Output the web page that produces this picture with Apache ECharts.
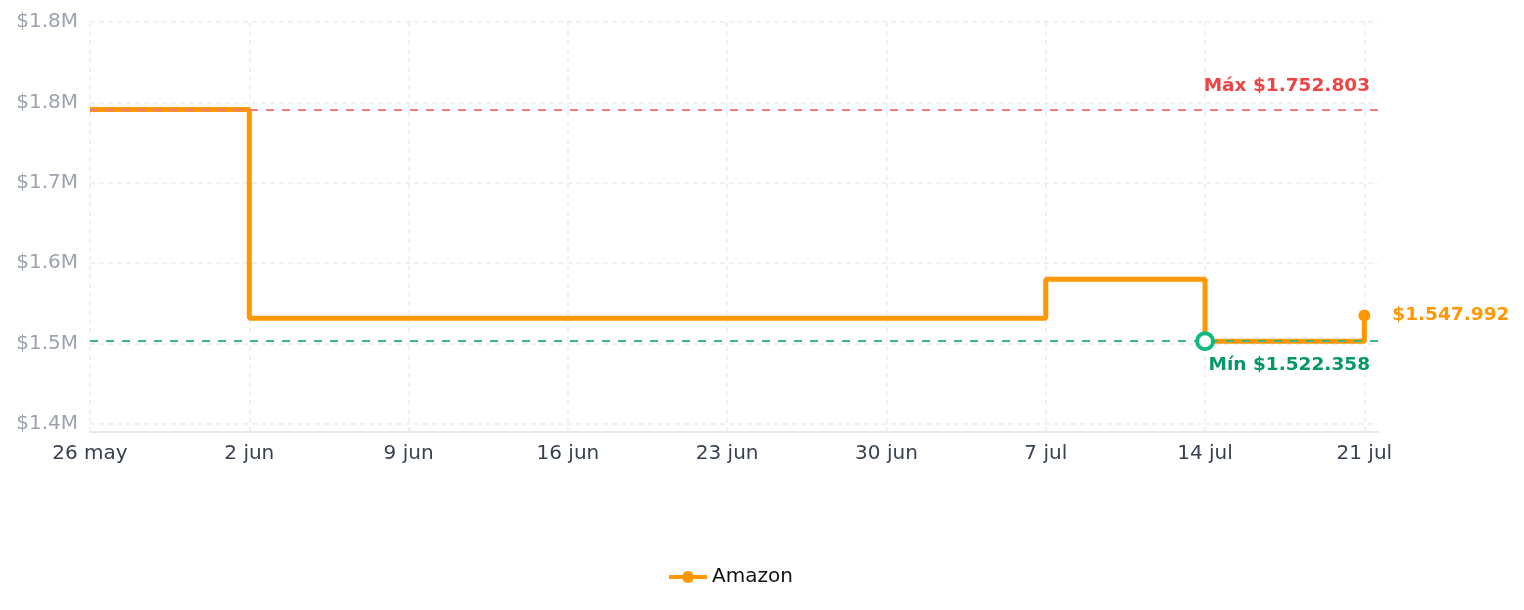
<!DOCTYPE html>
<html>
<head>
<meta charset="utf-8">
<title>Precio Amazon</title>
<script src="https://cdn.jsdelivr.net/npm/echarts@6/dist/echarts.min.js"></script>
<style>
  html, body { margin: 0; padding: 0; background: #fff; }
  #chart { width: 1524px; height: 610px; }
</style>
</head>
<body>
<div id="chart"></div>
<script>
// fechas donde cambia el precio y su valor
const dates = ['2025-05-26', '2025-06-02', '2025-07-07', '2025-07-14', '2025-07-21'];
const prices = [1752803, 1545100, 1584000, 1522358, 1547992];
// marcas del eje y que llevan etiqueta y linea
const yTicks = [1440000, 1520000, 1600000, 1680000, 1760000, 1840000];
const months = ['ene', 'feb', 'mar', 'abr', 'may', 'jun', 'jul', 'ago', 'sep', 'oct', 'nov', 'dic'];

const DAY = 86400000;
const toTime = d => Date.parse(d + 'T00:00:00Z');
const money = v => '$' + Math.round(v).toString().replace(/\B(?=(\d{3})+(?!\d))/g, '.');

const last = prices.length - 1;
const maxPrice = Math.max(...prices);
const minPrice = Math.min(...prices);
const xStart = toTime(dates[0]);

const orange = '#ff9800';
const font = 'DejaVu Sans';

// solo el ultimo punto lleva simbolo y etiqueta
const seriesData = dates.map((d, i) => {
  const item = { value: [toTime(d), prices[i]], symbol: 'none' };
  if (i === last) {
    item.symbol = 'circle';
    item.label = {
      show: true,
      position: 'right',
      distance: 22,
      formatter: p => money(p.value[1]),
      color: orange,
      fontWeight: 'bold',
      fontSize: 18.5,
      fontFamily: font
    };
  }
  return item;
});

// lineas de la grilla y: una de cada 10 marcas es visible
const ySplitColors = [];
for (let i = 0; i < 10; i++) ySplitColors.push(i === 1 ? '#ececec' : 'rgba(0,0,0,0)');

const chart = echarts.init(document.getElementById('chart'));
const option = {
  animation: false,
  textStyle: { fontFamily: font },
  grid: { left: 90, right: 146, top: 22, bottom: 178 },
  legend: {
    bottom: 18,
    left: 662,
    itemWidth: 38,
    itemHeight: 15,
    lineStyle: { width: 4 },
    textStyle: { fontSize: 20, color: '#111', fontFamily: font },
    data: ['Amazon']
  },
  xAxis: {
    type: 'value',
    min: xStart,
    max: toTime(dates[last]) + 0.6 * DAY,
    interval: 7 * DAY,
    axisLine: { lineStyle: { color: '#e5e7eb', width: 2 } },
    axisTick: { show: false },
    axisLabel: {
      margin: 12,
      fontSize: 20,
      color: '#374151',
      fontFamily: font,
      formatter: v => {
        if ((v - xStart) % (7 * DAY) !== 0) return '';
        const d = new Date(v);
        return d.getUTCDate() + ' ' + months[d.getUTCMonth()];
      }
    },
    splitLine: {
      show: true,
      showMaxLine: false,
      lineStyle: { color: '#ededed', width: 1.5, type: [5, 4] }
    }
  },
  yAxis: {
    type: 'value',
    min: 1432000,
    max: 1840000,
    interval: 8000,
    axisLine: { show: false },
    axisTick: { show: false },
    axisLabel: {
      margin: 12,
      fontSize: 20,
      color: '#9ca3af',
      fontFamily: font,
      padding: [5, 0, 0, 0],
      formatter: v => yTicks.includes(v) ? '$' + (v / 1e6).toFixed(1) + 'M' : ''
    },
    splitLine: {
      show: true,
      lineStyle: { color: ySplitColors, width: 1.5, type: [5, 4] }
    }
  },
  series: [
    {
      name: 'Amazon',
      type: 'line',
      step: 'end',
      data: seriesData,
      symbol: 'circle',
      symbolSize: 12,
      lineStyle: { color: orange, width: 5 },
      itemStyle: { color: orange },
      markLine: {
        silent: true,
        symbol: ['none', 'none'],
        data: [
          {
            yAxis: maxPrice,
            lineStyle: { color: '#f07a7a', width: 2, type: [8, 8] },
            label: {
              position: 'insideEndTop',
              distance: [8, 14],
              formatter: 'Máx ' + money(maxPrice),
              color: '#ef4444',
              fontWeight: 'bold',
              fontSize: 18.5,
              fontFamily: font
            }
          },
          {
            yAxis: minPrice,
            lineStyle: { color: '#3db68c', width: 2, type: [8, 8] },
            label: {
              position: 'insideEndBottom',
              distance: [8, 14],
              formatter: 'Mín ' + money(minPrice),
              color: '#059669',
              fontWeight: 'bold',
              fontSize: 18.5,
              fontFamily: font
            }
          }
        ]
      },
      markPoint: {
        silent: true,
        symbol: 'circle',
        symbolSize: 16,
        itemStyle: { color: '#fff', borderColor: '#10b981', borderWidth: 4 },
        label: { show: false },
        data: [{ type: 'min' }]
      }
    }
  ]
};
chart.setOption(option);
</script>
</body>
</html>
